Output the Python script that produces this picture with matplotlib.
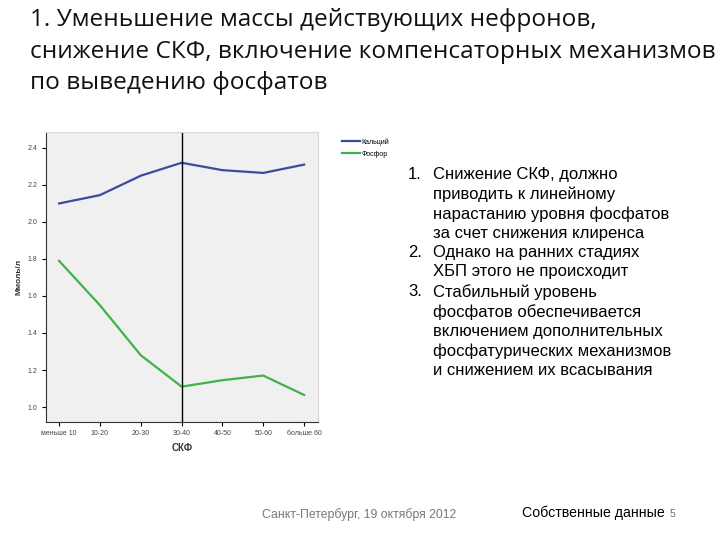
import matplotlib
matplotlib.use('Agg')
import matplotlib.pyplot as plt

plt.rcParams['font.family'] = ['Liberation Sans', 'DejaVu Sans']

# группы СКФ и средние значения (ммоль/л)
categories = ['меньше 10', '10-20', '20-30', '30-40', '40-50', '50-60', 'больше 60']
calcium = [2.10, 2.145, 2.25, 2.32, 2.28, 2.265, 2.31]
phosphorus = [1.79, 1.55, 1.28, 1.11, 1.145, 1.17, 1.065]
y_ticks = [1.0, 1.2, 1.4, 1.6, 1.8, 2.0, 2.2, 2.4]
marker_group = '30-40'

title = ('1. Уменьшение массы действующих нефронов,\n'
         'снижение СКФ, включение компенсаторных механизмов\n'
         'по выведению фосфатов')
points = [
    ('1.', 'Снижение СКФ, должно\nприводить к линейному\nнарастанию уровня фосфатов\nза счет снижения клиренса'),
    ('2.', 'Однако на ранних стадиях\nХБП этого не происходит'),
    ('3.', 'Стабильный уровень\nфосфатов обеспечивается\nвключением дополнительных\nфосфатурических механизмов\nи снижением их всасывания'),
]

fig = plt.figure(figsize=(7.2, 5.4), dpi=100)
ax = fig.add_axes([0.0639, 0.2185, 0.3778, 0.537])
ax.set_facecolor('#f0f0f0')

x = list(range(len(categories)))
ax.plot(x, calcium, color='#3b4b9e', lw=1.6, label='Кальций')
ax.plot(x, phosphorus, color='#3fb34a', lw=1.6, label='Фосфор')
ax.axvline(categories.index(marker_group), color='black', lw=1)

ax.set_xlim(-0.32, 6.34)
ax.set_ylim(0.919, 2.486)
ax.set_xticks(x)
ax.set_xticklabels(categories, fontsize=5, color='#444444')
ax.set_yticks(y_ticks)
ax.set_yticklabels([f'{v:.1f}' for v in y_ticks], fontsize=5, color='#444444')
ax.tick_params(length=3, width=0.8, direction='out', pad=3)
for side in ['top', 'right']:
    ax.spines[side].set_color('#d8d8d8')
for side in ['left', 'bottom']:
    ax.spines[side].set_color('#333333')
ax.set_xlabel('СКФ', fontsize=7, fontweight='bold', color='#333333', labelpad=4)
ax.set_ylabel('Ммоль/л', fontsize=6, fontweight='bold', color='#333333', labelpad=4)

ax.legend(loc='upper left', bbox_to_anchor=(1.065, 1.0), frameon=False,
          fontsize=5, handlelength=2.6, handletextpad=0.2, labelspacing=0.7)

fig.text(30 / 720, 1 - 8 / 540, title, fontsize=17.6, va='top', ha='left',
         family=['Open Sans', 'DejaVu Sans'], linespacing=1.43, color='#111111')

line_h = 19.5 / 540
y = 1 - 167 / 540
for num, body in points:
    fig.text(408 / 720, y, num, fontsize=12, va='top', ha='left')
    fig.text(433 / 720, y, body, fontsize=12, va='top', ha='left', linespacing=1.34)
    y -= (body.count('\n') + 1) * line_h

fig.text(262 / 720, 1 - 515 / 540, 'Санкт-Петербург, 19 октября 2012', fontsize=8.8,
         color='#777777', va='center', ha='left')
fig.text(522 / 720, 1 - 513 / 540, 'Собственные данные', fontsize=10.2,
         color='black', va='center', ha='left')
fig.text(670 / 720, 1 - 514 / 540, '5', fontsize=7.5, color='#5a6f8f', va='center', ha='left')

fig.savefig('out.png', dpi=100)
